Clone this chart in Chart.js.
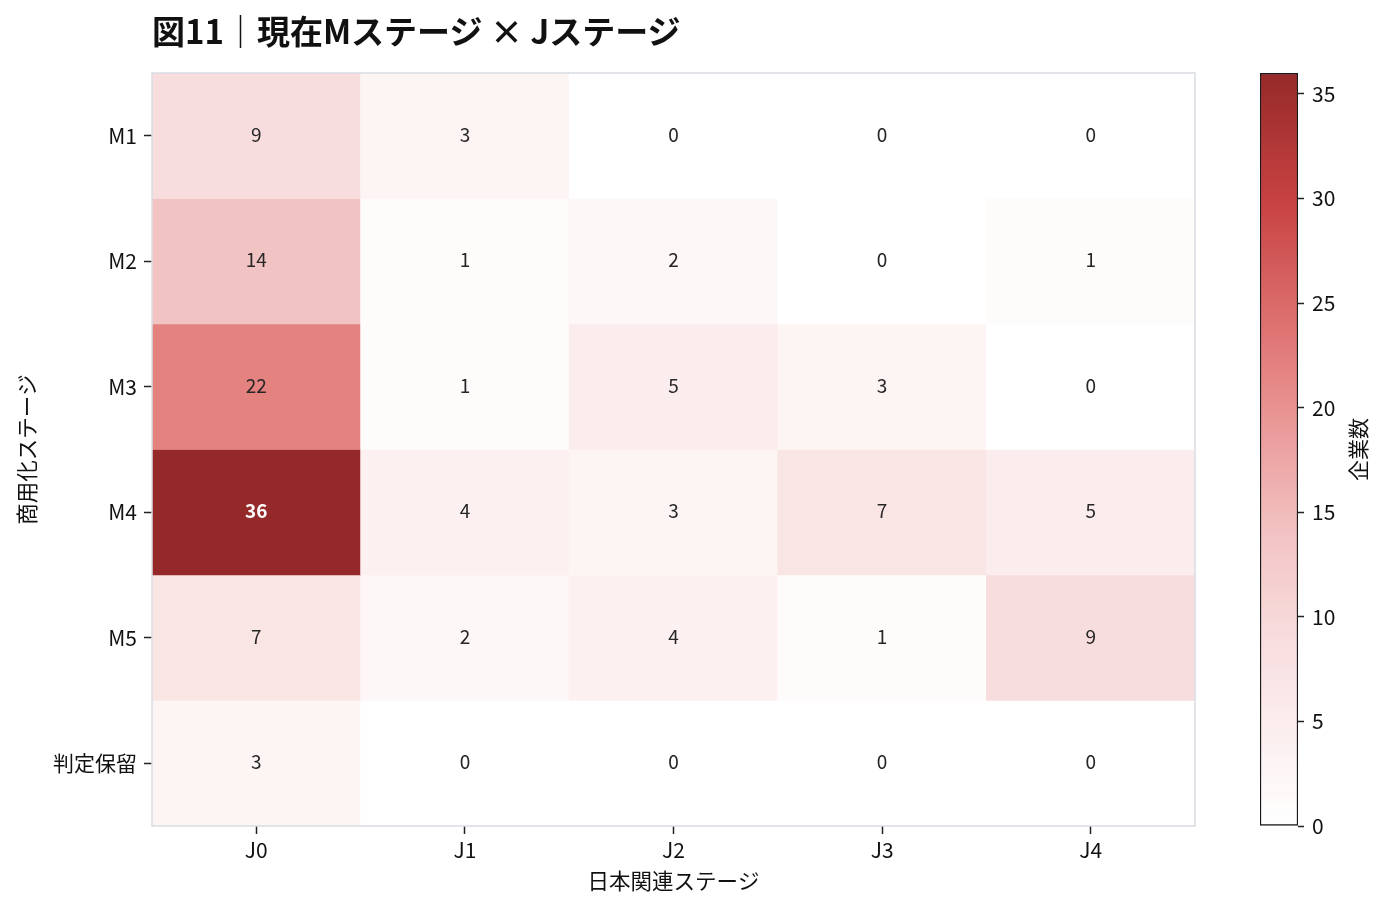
<!DOCTYPE html>
<html>
<head>
<meta charset="utf-8">
<script src="https://cdn.jsdelivr.net/npm/chart.js@4.4.1/dist/chart.umd.min.js"></script>
<style>
  html, body { margin:0; padding:0; background:#fff; }
  #wrap { position:relative; width:1386px; height:912px; }
  #main { position:absolute; left:0; top:0; }
  #cbar { position:absolute; left:1200px; top:0; }
  #title { position:absolute; left:152px; top:11px; font-family:"Noto Sans CJK JP"; font-weight:bold; font-size:33px; line-height:38px; color:#111; white-space:nowrap; }
</style>
</head>
<body>
<div id="wrap">
  <canvas id="main" width="1386" height="912" style="width:1386px;height:912px"></canvas>
  <canvas id="cbar" width="186" height="912" style="width:186px;height:912px"></canvas>
  <div id="title">図11｜現在Mステージ × Jステージ</div>
</div>
<script>
// ---- data ----
const rowLabels = ['M1', 'M2', 'M3', 'M4', 'M5', '判定保留'];
const colLabels = ['J0', 'J1', 'J2', 'J3', 'J4'];
const rowM1 = [9, 3, 0, 0, 0];
const rowM2 = [14, 1, 2, 0, 1];
const rowM3 = [22, 1, 5, 3, 0];
const rowM4 = [36, 4, 3, 7, 5];
const rowM5 = [7, 2, 4, 1, 9];
const rowHold = [3, 0, 0, 0, 0];
const colorbarTicks = [0, 5, 10, 15, 20, 25, 30, 35];
const xTitle = '日本関連ステージ';
const yTitle = '商用化ステージ';
const cbarTitle = '企業数';

const rowsData = [rowM1, rowM2, rowM3, rowM4, rowM5, rowHold];
const vmax = Math.max(...rowsData.flat());

// ---- colormap ----
const cmapStops = [
  [0.00, [255, 255, 255]],
  [0.25, [248, 221, 222]],
  [0.39, [242, 195, 195]],
  [0.61, [228, 130, 128]],
  [0.83, [200, 66, 66]],
  [1.00, [149, 41, 41]]
];
function cmap(t) {
  t = Math.max(0, Math.min(1, t));
  for (let i = 1; i < cmapStops.length; i++) {
    const [t1, c1] = cmapStops[i];
    const [t0, c0] = cmapStops[i - 1];
    if (t <= t1) {
      const f = (t - t0) / (t1 - t0);
      const c = c0.map((v, k) => Math.round(v + (c1[k] - v) * f));
      return `rgb(${c[0]},${c[1]},${c[2]})`;
    }
  }
  const c = cmapStops[cmapStops.length - 1][1];
  return `rgb(${c[0]},${c[1]},${c[2]})`;
}

const FONT = '"Noto Sans CJK JP", "Noto Sans", sans-serif';

const datasets = rowsData.map((vals, r) => ({
  label: rowLabels[r],
  data: vals.map(() => [r, r + 1]),
  values: vals,
  backgroundColor: vals.map(v => cmap(v / vmax)),
  borderWidth: 0,
  barPercentage: 1,
  categoryPercentage: 1
}));

const cellLabels = {
  id: 'cellLabels',
  afterDatasetsDraw(chart) {
    const ctx = chart.ctx;
    ctx.save();
    ctx.textAlign = 'center';
    ctx.textBaseline = 'middle';
    chart.data.datasets.forEach((ds, di) => {
      const meta = chart.getDatasetMeta(di);
      meta.data.forEach((el, j) => {
        const v = ds.values[j];
        const strong = v / vmax > 0.7;
        ctx.fillStyle = strong ? '#ffffff' : '#262626';
        ctx.font = (strong ? 'bold ' : '') + '19px ' + FONT;
        ctx.fillText(String(v), el.x, (el.y + el.base) / 2 - 1);
      });
    });
    ctx.restore();
  }
};

const frame = {
  id: 'frame',
  afterDatasetsDraw(chart) {
    const a = chart.chartArea;
    const ctx = chart.ctx;
    ctx.save();
    ctx.strokeStyle = '#d8dde3';
    ctx.lineWidth = 1.5;
    ctx.strokeRect(a.left, a.top, a.right - a.left, a.bottom - a.top);
    ctx.restore();
  }
};

new Chart(document.getElementById('main'), {
  type: 'bar',
  data: { labels: colLabels, datasets },
  options: {
    responsive: false,
    animation: false,
    events: [],
    layout: { padding: { left: 0, right: 191, top: 73, bottom: 0 } },
    plugins: { legend: { display: false }, tooltip: { enabled: false } },
    scales: {
      x: {
        stacked: true,
        grid: { offset: false, drawOnChartArea: false, color: 'transparent', tickColor: '#222', tickLength: 8, tickWidth: 1.5 },
        border: { display: false },
        ticks: { color: '#111', font: { family: FONT, size: 21 }, padding: 3 },
        title: { display: true, text: xTitle, color: '#111', font: { family: FONT, size: 21.5 }, padding: { top: 18, bottom: 18 } },
        afterFit(scale) { scale.height = 86; }
      },
      y: {
        type: 'linear',
        min: 0,
        max: rowLabels.length,
        reverse: true,
        grid: { drawOnChartArea: false, color: 'transparent', tickColor: '#222', tickLength: 8, tickWidth: 1.5 },
        border: { display: false },
        afterBuildTicks(scale) { scale.ticks = rowLabels.map((_, i) => ({ value: i + 0.5 })); },
        ticks: {
          color: '#111', font: { family: FONT, size: 21 }, padding: 7,
          callback: (v) => rowLabels[Math.floor(v)]
        },
        title: { display: true, text: yTitle, color: '#111', font: { family: FONT, size: 21.5 }, padding: { top: 14, bottom: 14 } },
        afterFit(scale) { scale.width = 152; }
      }
    }
  },
  plugins: [cellLabels, frame]
});

// ---- colorbar ----
const cbarTitlePlugin = {
  id: 'cbarTitle',
  afterDraw(chart) {
    const a = chart.chartArea;
    const ctx = chart.ctx;
    ctx.save();
    ctx.translate(158, (a.top + a.bottom) / 2);
    ctx.rotate(-Math.PI / 2);
    ctx.textAlign = 'center';
    ctx.textBaseline = 'middle';
    ctx.fillStyle = '#111';
    ctx.font = '21px ' + FONT;
    ctx.fillText(cbarTitle, 0, 0);
    ctx.restore();
  }
};

new Chart(document.getElementById('cbar'), {
  type: 'bar',
  data: {
    labels: [''],
    datasets: [{
      data: [[0, vmax]],
      backgroundColor(c) {
        const chart = c.chart;
        const a = chart.chartArea;
        if (!a) return '#fff';
        const ys = chart.scales.y;
        const g = chart.ctx.createLinearGradient(0, ys.getPixelForValue(0), 0, ys.getPixelForValue(vmax));
        for (let i = 0; i <= 40; i++) g.addColorStop(i / 40, cmap(i / 40));
        return g;
      },
      borderColor: '#1a1a1a',
      borderWidth: 1.5,
      borderSkipped: false,
      barPercentage: 1,
      categoryPercentage: 1
    }]
  },
  options: {
    responsive: false,
    animation: false,
    events: [],
    layout: { padding: { left: 60, right: 0, top: 73, bottom: 86 } },
    plugins: { legend: { display: false }, tooltip: { enabled: false } },
    scales: {
      x: { display: false },
      y: {
        position: 'right',
        min: 0,
        max: vmax,
        afterBuildTicks(scale) { scale.ticks = colorbarTicks.map(v => ({ value: v })); },
        grid: { drawOnChartArea: false, color: 'transparent', tickColor: '#222', tickLength: 6, tickWidth: 1.5 },
        border: { display: false },
        ticks: { color: '#111', font: { family: FONT, size: 21 }, padding: 8 },
        afterFit(scale) { scale.width = 88; }
      }
    }
  },
  plugins: [cbarTitlePlugin]
});
</script>
</body>
</html>
